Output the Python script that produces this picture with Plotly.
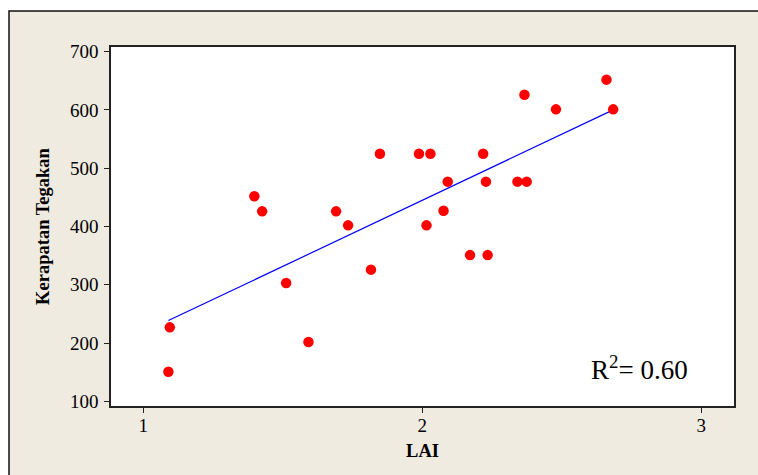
import numpy as np
import plotly.graph_objects as go

# Data
lai = [1.398, 1.426, 1.691, 1.734, 1.848, 1.988, 2.029, 2.218, 2.366, 2.479,
       2.660, 2.684, 2.091, 2.228, 2.341, 2.374, 2.076, 2.015, 1.512, 1.095,
       1.592, 1.090, 1.816, 2.171, 2.234]
kerapatan = [452, 426, 426, 402, 525, 525, 525, 525, 626, 601,
             652, 601, 477, 477, 477, 477, 427, 402, 303, 227,
             202, 151, 326, 351, 351]
x_ticks = [1, 2, 3]
y_ticks = [100, 200, 300, 400, 500, 600, 700]
r2_label = "R<sup>2</sup>= 0.60"

# Fitted regression line from the data
slope, intercept = np.polyfit(lai, kerapatan, 1)
x_fit = [min(lai), max(lai)]
y_fit = [slope * v + intercept for v in x_fit]

W, H = 758, 475
ML, MT = 111, 47
PW, PH = 623, 359
MR, MB = W - ML - PW, H - MT - PH

FONT = "Liberation Serif, Times New Roman, serif"
BEIGE = "#EFEBE1"

fig = go.Figure()
fig.add_trace(go.Scatter(x=x_fit, y=y_fit, mode="lines",
                         line=dict(color="#0000FF", width=1.2),
                         hoverinfo="skip", showlegend=False))
fig.add_trace(go.Scatter(x=lai, y=kerapatan, mode="markers",
                         marker=dict(color="#FF0000", size=10.5, line=dict(width=0)),
                         showlegend=False))

# outer beige panel with a border (extends beyond the right/bottom of canvas)
fig.add_shape(type="rect", xref="paper", yref="paper",
              x0=(9 - ML) / PW, x1=2.0,
              y0=-1.0, y1=(H - MB - 11) / PH,
              fillcolor=BEIGE, line=dict(color="#111111", width=1.5),
              layer="below")
# white plot area
fig.add_shape(type="rect", xref="paper", yref="paper",
              x0=0, x1=1, y0=0, y1=1,
              fillcolor="white", line=dict(width=0), layer="below")

fig.add_annotation(text=r2_label, xref="paper", yref="paper",
                   x=(690 - ML) / PW, y=(H - MB - 368) / PH,
                   xanchor="right", yanchor="middle", showarrow=False,
                   font=dict(family=FONT, size=27, color="black"))

axis_common = dict(showline=True, linecolor="#222222", linewidth=1.5, mirror=True,
                   ticks="outside", ticklen=5, tickwidth=1, tickcolor="#222222",
                   showgrid=False, zeroline=False,
                   tickfont=dict(family=FONT, size=19, color="black"))

fig.update_xaxes(range=[0.8843, 3.117], tickvals=x_ticks, ticklabelstandoff=-4,
                 title=dict(text="<b>LAI</b>", font=dict(family=FONT, size=18.5, color="black"),
                            standoff=10),
                 **axis_common)
fig.update_yaxes(range=[92.1, 708], tickvals=y_ticks, ticklabelstandoff=2,
                 title=dict(text="<b>Kerapatan Tegakan</b>",
                            font=dict(family=FONT, size=18.5, color="black"), standoff=15),
                 **axis_common)

fig.update_layout(width=W, height=H,
                  margin=dict(l=ML, r=MR, t=MT, b=MB, autoexpand=False),
                  paper_bgcolor="white", plot_bgcolor="rgba(0,0,0,0)",
                  font=dict(family=FONT, color="black"))

fig.write_html("out.html", config={"displayModeBar": False},
               post_script="document.body.style.margin='0';document.body.style.overflow='hidden';")
